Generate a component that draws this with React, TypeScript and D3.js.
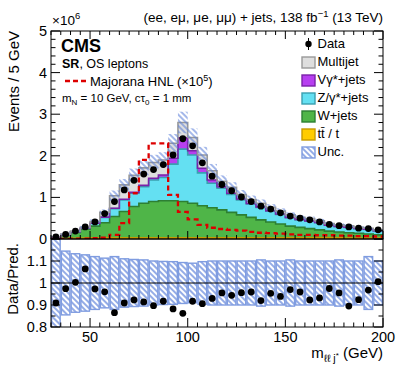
import React, { useEffect, useRef } from 'react';
import * as d3 from 'd3';

// bins of 5 GeV from 30 to 200 GeV (values in units of 10^6 events)
const binEdges = d3.range(30, 201, 5);
const dataCounts = [0.05, 0.11, 0.19, 0.29, 0.41, 0.61, 0.9, 1.18, 1.41, 1.56, 1.67, 1.79, 2.02, 2.41, 2.24, 1.83, 1.51, 1.31, 1.16, 1.01, 0.9, 0.79, 0.72, 0.63, 0.55, 0.5, 0.46, 0.41, 0.35, 0.32, 0.29, 0.26, 0.25, 0.22];
const ttbar = [0.005, 0.01, 0.015, 0.02, 0.03, 0.03, 0.03, 0.03, 0.03, 0.03, 0.03, 0.03, 0.03, 0.03, 0.03, 0.03, 0.03, 0.03, 0.03, 0.03, 0.03, 0.03, 0.03, 0.03, 0.03, 0.03, 0.03, 0.03, 0.03, 0.03, 0.025, 0.025, 0.025, 0.025];
const wjets = [0.03, 0.085, 0.145, 0.215, 0.28, 0.36, 0.51, 0.63, 0.75, 0.83, 0.87, 0.89, 0.89, 0.87, 0.83, 0.77, 0.72, 0.67, 0.61, 0.55, 0.49, 0.43, 0.38, 0.33, 0.28, 0.25, 0.22, 0.19, 0.16, 0.14, 0.125, 0.115, 0.095, 0.075];
const zjets = [0.01, 0.01, 0.015, 0.025, 0.07, 0.13, 0.19, 0.28, 0.32, 0.4, 0.52, 0.56, 0.88, 1.26, 1.16, 0.79, 0.59, 0.52, 0.43, 0.36, 0.32, 0.3, 0.26, 0.23, 0.2, 0.18, 0.18, 0.17, 0.14, 0.13, 0.13, 0.11, 0.11, 0.095];
const vgamma = [0, 0, 0, 0, 0, 0.005, 0.01, 0.015, 0.02, 0.03, 0.04, 0.06, 0.14, 0.27, 0.1, 0.11, 0.08, 0.04, 0.03, 0.02, 0.015, 0.012, 0.01, 0.01, 0.008, 0.007, 0.006, 0.005, 0.004, 0.004, 0.003, 0.003, 0.003, 0.002];
const multijet = [0.01, 0.01, 0.015, 0.02, 0.04, 0.115, 0.3, 0.345, 0.41, 0.42, 0.38, 0.36, 0.36, 0.37, 0.32, 0.32, 0.22, 0.13, 0.14, 0.11, 0.095, 0.088, 0.08, 0.07, 0.062, 0.053, 0.054, 0.045, 0.036, 0.036, 0.037, 0.027, 0.027, 0.023];
const signalHNL = [0, 0.005, 0.01, 0.01, 0.02, 0.03, 0.1, 0.38, 1.1, 1.9, 2.3, 2.3, 1.06, 0.65, 0.47, 0.34, 0.27, 0.24, 0.22, 0.2, 0.17, 0.15, 0.14, 0.13, 0.11, 0.1, 0.1, 0.09, 0.09, 0.08, 0.08, 0.07, 0.07, 0.06];
const ratioValues = [0.909, 0.974, 1.003, 1.064, 0.973, 0.96, 0.865, 0.909, 0.923, 0.914, 0.897, 0.917, 0.882, 0.862, 0.917, 0.906, 0.93, 0.955, 0.944, 0.956, 0.959, 0.92, 0.953, 0.939, 0.97, 0.959, 0.923, 0.932, 0.975, 0.955, 0.895, 0.924, 0.968, 1.006];
const uncRel = [0.25, 0.145, 0.133, 0.128, 0.12, 0.113, 0.12, 0.11, 0.107, 0.105, 0.1, 0.098, 0.097, 0.093, 0.09, 0.097, 0.1, 0.1, 0.1, 0.1, 0.1, 0.105, 0.1, 0.1, 0.105, 0.1, 0.1, 0.1, 0.1, 0.105, 0.1, 0.1, 0.12, 0.1];

const yTicksTop = [0, 1, 2, 3, 4, 5];
const yTicksRatio = [0.8, 0.9, 1, 1.1];
const xTickLabels = [50, 100, 150, 200];

const stackKeys = ['tt', 'w', 'z', 'vg', 'mj'];
const fillColors: Record<string, string> = { tt: '#ffcc00', w: '#4fb548', z: '#64e0f2', vg: '#b73ff0', mj: '#dedede' };
const lineColors: Record<string, string> = { tt: '#c79a00', w: '#2d7f33', z: '#3a9fb0', vg: '#7a22a8', mj: '#999999' };
const legendLabels = ['Data', 'Multijet', 'Vγ*+jets', 'Z/γ*+jets', 'W+jets', 'tt̄ / t', 'Unc.'];
const legendKeys = ['data', 'mj', 'vg', 'z', 'w', 'tt', 'unc'];

const W = 399, H = 368;
const left = 51, right = 383, top = 31, mid = 239, bottom = 327;
const FONT = '"Liberation Sans", Arial, Helvetica, sans-serif';

export default function App() {
  const ref = useRef<SVGSVGElement>(null);

  useEffect(() => {
    const svg = d3.select(ref.current);
    svg.selectAll('*').remove();

    const x = d3.scaleLinear().domain([30, 200]).range([left, right]);
    const y = d3.scaleLinear().domain([0, 5]).range([mid, top]);
    const yr = d3.scaleLinear().domain([0.8, 1.2]).range([bottom, mid]);

    const defs = svg.append('defs');
    const pat = defs.append('pattern').attr('id', 'hatch')
      .attr('patternUnits', 'userSpaceOnUse').attr('width', 4).attr('height', 4)
      .attr('patternTransform', 'rotate(-45)');
    pat.append('line').attr('x1', 1).attr('y1', 0).attr('x2', 1).attr('y2', 4)
      .attr('stroke', '#5a7fd8').attr('stroke-width', 1.3);
    defs.append('clipPath').attr('id', 'clipTop').append('rect')
      .attr('x', left).attr('y', top).attr('width', right - left).attr('height', mid - top);
    defs.append('clipPath').attr('id', 'clipRat').append('rect')
      .attr('x', left).attr('y', mid).attr('width', right - left).attr('height', bottom - mid);

    // stacked backgrounds
    const rows = dataCounts.map((_, i) => ({ tt: ttbar[i], w: wjets[i], z: zjets[i], vg: vgamma[i], mj: multijet[i] }));
    const series = d3.stack<any>().keys(stackKeys)(rows);
    const totals = rows.map(r => r.tt + r.w + r.z + r.vg + r.mj);

    const stepPts = (lo: number[], hi: number[]) => {
      const pts: { x: number; y0: number; y1: number }[] = [];
      lo.forEach((v, i) => {
        pts.push({ x: binEdges[i], y0: v, y1: hi[i] });
        pts.push({ x: binEdges[i + 1], y0: v, y1: hi[i] });
      });
      return pts;
    };
    const area = d3.area<any>().x(d => x(d.x)).y0(d => y(d.y0)).y1(d => y(d.y1));
    const line = d3.line<any>().x(d => x(d.x)).y(d => y(d.y1));

    const gTop = svg.append('g').attr('clip-path', 'url(#clipTop)');
    series.forEach(s => {
      const pts = stepPts(s.map(d => d[0]), s.map(d => d[1]));
      gTop.append('path').attr('d', area(pts)).attr('fill', fillColors[s.key]);
    });
    series.forEach(s => {
      const pts = stepPts(s.map(d => d[0]), s.map(d => d[1]));
      gTop.append('path').attr('d', line(pts)).attr('fill', 'none')
        .attr('stroke', lineColors[s.key]).attr('stroke-width', 1.6);
    });

    // uncertainty band
    gTop.selectAll('rect.unc').data(totals).enter().append('rect')
      .attr('x', (d, i) => x(binEdges[i])).attr('width', (d, i) => x(binEdges[i + 1]) - x(binEdges[i]))
      .attr('y', (d, i) => y(d * (1 + uncRel[i])))
      .attr('height', (d, i) => y(d * (1 - uncRel[i])) - y(d * (1 + uncRel[i])))
      .attr('fill', 'url(#hatch)').attr('opacity', 0.85);

    // signal
    const sigPts = stepPts(signalHNL.map(() => 0), signalHNL);
    gTop.append('path').attr('d', line(sigPts)).attr('fill', 'none')
      .attr('stroke', '#dd0000').attr('stroke-width', 2.3).attr('stroke-dasharray', '5,3.5');

    // data
    gTop.selectAll('circle.data').data(dataCounts).enter().append('circle')
      .attr('cx', (d, i) => x((binEdges[i] + binEdges[i + 1]) / 2)).attr('cy', d => y(d))
      .attr('r', 3.4).attr('fill', '#000');

    // ratio panel
    const gRat = svg.append('g').attr('clip-path', 'url(#clipRat)');
    gRat.selectAll('rect.runc').data(uncRel).enter().append('rect')
      .attr('x', (d, i) => x(binEdges[i]) + 0.6).attr('width', (d, i) => x(binEdges[i + 1]) - x(binEdges[i]) - 1.2)
      .attr('y', d => yr(1 + d)).attr('height', d => yr(1 - d) - yr(1 + d))
      .attr('fill', 'url(#hatch)').attr('stroke', '#7f9ce0').attr('stroke-width', 1.4);
    gRat.append('line').attr('x1', left).attr('x2', right).attr('y1', yr(1)).attr('y2', yr(1))
      .attr('stroke', '#000').attr('stroke-width', 1);
    gRat.selectAll('circle.rd').data(ratioValues).enter().append('circle')
      .attr('cx', (d, i) => x((binEdges[i] + binEdges[i + 1]) / 2)).attr('cy', d => yr(d))
      .attr('r', 3.4).attr('fill', '#000');

    // frames and ticks
    const axes = svg.append('g').attr('stroke', '#000').attr('stroke-width', 1).attr('fill', 'none');
    axes.append('rect').attr('x', left).attr('y', top).attr('width', right - left).attr('height', mid - top);
    axes.append('rect').attr('x', left).attr('y', mid).attr('width', right - left).attr('height', bottom - mid);
    d3.range(30, 201, 5).forEach(v => {
      const major = v % 50 === 0;
      const lt = major ? 8 : 4;
      const lr = major ? 9 : 4.5;
      axes.append('line').attr('x1', x(v)).attr('x2', x(v)).attr('y1', top).attr('y2', top + lt);
      axes.append('line').attr('x1', x(v)).attr('x2', x(v)).attr('y1', mid).attr('y2', mid - lt);
      axes.append('line').attr('x1', x(v)).attr('x2', x(v)).attr('y1', bottom).attr('y2', bottom - lr);
    });
    d3.range(0, 5.01, 0.2).forEach(v => {
      const major = Math.abs(v - Math.round(v)) < 1e-6;
      const l = major ? 9 : 4.5;
      axes.append('line').attr('x1', left).attr('x2', left + l).attr('y1', y(v)).attr('y2', y(v));
      axes.append('line').attr('x1', right).attr('x2', right - l).attr('y1', y(v)).attr('y2', y(v));
    });
    d3.range(0.8, 1.201, 0.05).forEach(v => {
      const major = Math.abs(v * 10 - Math.round(v * 10)) < 1e-6;
      const l = major ? 9 : 4.5;
      axes.append('line').attr('x1', left).attr('x2', left + l).attr('y1', yr(v)).attr('y2', yr(v));
      axes.append('line').attr('x1', right).attr('x2', right - l).attr('y1', yr(v)).attr('y2', yr(v));
    });

    // tick labels
    const txt = svg.append('g').attr('font-family', FONT).attr('fill', '#000');
    yTicksTop.forEach(v => {
      txt.append('text').attr('x', 47).attr('y', y(v) + 5).attr('text-anchor', 'end')
        .attr('font-size', 14.5).text(v);
    });
    yTicksRatio.forEach(v => {
      txt.append('text').attr('x', 47).attr('y', yr(v) + 5).attr('text-anchor', 'end')
        .attr('font-size', 14.5).text(v);
    });
    xTickLabels.forEach(v => {
      txt.append('text').attr('x', x(v)).attr('y', 342).attr('text-anchor', 'middle')
        .attr('font-size', 14.5).text(v);
    });

    // axis titles
    txt.append('text').attr('transform', `translate(19,${top}) rotate(-90)`).attr('text-anchor', 'end')
      .attr('font-size', 15).text('Events / 5 GeV');
    txt.append('text').attr('transform', `translate(18,243) rotate(-90)`).attr('text-anchor', 'end')
      .attr('font-size', 15).text('Data/Pred.');
    const xl = txt.append('text').attr('x', right).attr('y', 358).attr('text-anchor', 'end').attr('font-size', 15);
    xl.append('tspan').text('m');
    xl.append('tspan').attr('dy', 4).attr('font-size', 10.5).text('ℓℓ j');
    xl.append('tspan').attr('dy', -4).attr('font-size', 8).text('*');
    xl.append('tspan').attr('dy', 0).text(' (GeV)');

    // exponent and title
    const ex = txt.append('text').attr('x', 52).attr('y', 25).attr('font-size', 13.5);
    ex.append('tspan').text('×10');
    ex.append('tspan').attr('dy', -6).attr('font-size', 9.5).text('6');
    const tt = txt.append('text').attr('x', right).attr('y', 22).attr('text-anchor', 'end').attr('font-size', 13.5);
    tt.append('tspan').text('(ee, eμ, μe, μμ) + jets, 138 fb');
    tt.append('tspan').attr('dy', -5).attr('font-size', 9.5).text('−1');
    tt.append('tspan').attr('dy', 5).text(' (13 TeV)');

    // labels inside the frame
    txt.append('text').attr('x', 61).attr('y', 52).attr('font-size', 18).attr('font-weight', 'bold').text('CMS');
    const sr = txt.append('text').attr('x', 62).attr('y', 67.5).attr('font-size', 12.5);
    sr.append('tspan').attr('font-weight', 'bold').text('SR');
    sr.append('tspan').text(', OS leptons');
    svg.append('line').attr('x1', 65).attr('x2', 88).attr('y1', 81).attr('y2', 81)
      .attr('stroke', '#dd0000').attr('stroke-width', 2.5).attr('stroke-dasharray', '5,3');
    const mj = txt.append('text').attr('x', 90).attr('y', 85.5).attr('font-size', 13);
    mj.append('tspan').text('Majorana HNL (×10');
    mj.append('tspan').attr('dy', -5).attr('font-size', 9).text('5');
    mj.append('tspan').attr('dy', 5).text(')');
    const mn = txt.append('text').attr('x', 62).attr('y', 102).attr('font-size', 11.5);
    mn.append('tspan').text('m');
    mn.append('tspan').attr('dy', 3).attr('font-size', 8).text('N');
    mn.append('tspan').attr('dy', -3).text(' = 10 GeV, cτ');
    mn.append('tspan').attr('dy', 3).attr('font-size', 8).text('0');
    mn.append('tspan').attr('dy', -3).text(' = 1 mm');

    // legend
    const lg = svg.append('g');
    legendKeys.forEach((k, i) => {
      const base = 48 + i * 18;
      if (k === 'data') {
        lg.append('line').attr('x1', 308.5).attr('x2', 308.5).attr('y1', base - 10).attr('y2', base + 2)
          .attr('stroke', '#000').attr('stroke-width', 1);
        lg.append('circle').attr('cx', 308.5).attr('cy', base - 4).attr('r', 3.2).attr('fill', '#000');
      } else if (k === 'unc') {
        lg.append('rect').attr('x', 302).attr('y', base - 9).attr('width', 13).attr('height', 11)
          .attr('fill', 'url(#hatch)').attr('stroke', '#7f9ce0').attr('stroke-width', 1.4);
      } else {
        lg.append('rect').attr('x', 302).attr('y', base - 9).attr('width', 13).attr('height', 11)
          .attr('fill', fillColors[k]).attr('stroke', lineColors[k]).attr('stroke-width', 1.4);
      }
      lg.append('text').attr('x', 317.5).attr('y', base).attr('font-family', FONT)
        .attr('font-size', 13).text(legendLabels[i]);
    });
  }, []);

  return (
    <svg ref={ref} width={W} height={H} style={{ position: 'absolute', left: 0, top: 0, background: '#fff' }} />
  );
}
